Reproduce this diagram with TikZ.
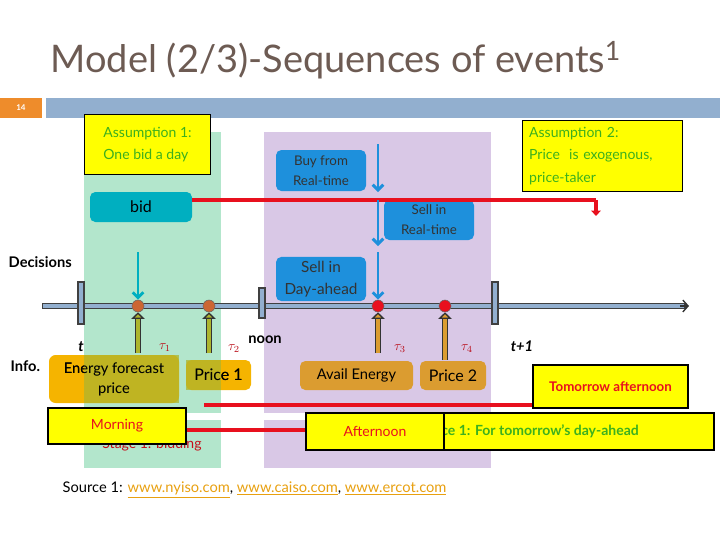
\documentclass[tikz,border=0pt]{standalone}
\usepackage{fontspec}
\setmainfont{Lato}
\usetikzlibrary{arrows.meta}
\definecolor{ttl}{HTML}{6D5B53}
\definecolor{grn}{HTML}{B3E6CC}
\definecolor{pur}{HTML}{D9C8E6}
\definecolor{yel}{HTML}{FFFF00}
\definecolor{tgreen}{HTML}{3CB01E}
\definecolor{teal}{HTML}{00AFC0}
\definecolor{bbl}{HTML}{1E90DC}
\definecolor{orng}{HTML}{F5B400}
\definecolor{dorng}{HTML}{DB9C30}
\definecolor{olv}{HTML}{ADB52E}
\definecolor{rd}{HTML}{E8101E}
\definecolor{barb}{HTML}{92AFCF}
\definecolor{lnk}{HTML}{E8A010}
\tikzset{
  ybox/.style={draw=black, line width=0.8pt, fill=yel, align=left, font=\fontsize{10.5}{17}\selectfont, inner sep=4pt},
  bbox/.style={fill=bbl, rounded corners=4pt, align=center, font=\fontsize{10}{15}\selectfont, text=black!80},
  obox/.style={fill=dorng, rounded corners=4pt, align=center, font=\fontsize{11}{15}\selectfont},
  darr/.style={bbl, line width=2.2pt, -{Straight Barb[length=4pt,width=8pt]}},
  tick/.style={draw=black!75, fill=barb, line width=0.8pt},
  lbl/.style={font=\bfseries\fontsize{11}{13}\selectfont},
  tau/.style={text=rd!80!black, font=\fontsize{10}{12}\selectfont},
  rline/.style={rd, line width=3.5pt}
}
\begin{document}
\begin{tikzpicture}[x=0.75pt,y=-0.75pt]
\useasboundingbox (0,0) rectangle (720,540);
% title
\node[text=ttl, font=\fontsize{28.5}{32}\selectfont, anchor=west] (title) at (46,60) {Model (2/3)-Sequences of events$^{\mathrm{1}}$};
\fill[orange!70!brown!90] (0,98) rectangle (42,118);
\node[text=white, font=\bfseries\fontsize{6}{7}\selectfont] (num) at (21,108) {14};
\fill[barb] (46,98) rectangle (720,118);
% backgrounds
\fill[grn] (84,132) rectangle (221,413);
\fill[grn] (84,420) rectangle (221,468);
\fill[pur] (264,132) rectangle (491,413);
\fill[pur] (264,420) rectangle (491,468);
% timeline
\draw[black!75, line width=5pt] (42,306) -- (686,306);
\draw[barb, line width=3.2pt] (43,306) -- (684,306);
\draw[black!80, line width=1pt, -{Straight Barb[length=4pt,width=9pt]}] (680,306) -- (689,306);
\draw[tick] (78,282) rectangle (84,324);
\draw[tick] (259,288) rectangle (265,318);
\draw[tick] (492,282) rectangle (498,324);
% decision boxes
\node[fill=teal, rounded corners=4pt, minimum width=76.5pt, minimum height=22.5pt, font=\fontsize{12}{14}\selectfont] (bid) at (141,207) {bid};
\node[bbox, minimum width=67.5pt, minimum height=30.75pt] (buy) at (321,170.5) {Buy from\\Real-time};
\node[bbox, minimum width=67.5pt, minimum height=30pt] (srt) at (429,220) {Sell in\\Real-time};
\node[bbox, minimum width=67.5pt, minimum height=31.5pt, font=\fontsize{11.5}{16}\selectfont] (sda) at (321,279) {Sell in\\Day-ahead};
% red bid line
\coordinate (rend) at (596,200);
\coordinate (rtip) at (596,216);
\draw[rline] (bid.east |- 0,200) -- (rend);
\draw[rd, line width=3pt, -{Triangle[length=4pt,width=7pt]}] (rend) -- (rtip);
% dots
\node[circle, fill=brown!80!red, draw=black!60, inner sep=0, minimum size=9pt] (d1) at (138,306) {};
\node[circle, fill=brown!80!red, draw=black!60, inner sep=0, minimum size=9pt] (d2) at (209,306) {};
\node[circle, fill=rd, draw=black!60, inner sep=0, minimum size=9pt] (d3) at (378,306) {};
\node[circle, fill=rd, draw=black!60, inner sep=0, minimum size=9pt] (d4) at (445,306) {};
% down arrows
\coordinate (a1) at (378,144); \coordinate (a2) at (378,192);
\coordinate (a3) at (378,200); \coordinate (a4) at (378,246);
\coordinate (a5) at (378,252);
\coordinate (t1) at (138,252);
\draw[darr] (a1) -- (a2);
\draw[darr] (a3) -- (a4);
\draw[darr] (a5) -- (d3.north);
\draw[darr, teal] (t1) -- (d1.north);
% up arrows
\foreach \n/\c/\y in {d1/olv/353, d2/olv/353, d3/dorng/353, d4/dorng/360}{
  \draw[black!80, line width=5pt] (\n.south |- 0,\y) -- ([yshift=-5pt]\n.south);
  \draw[\c, line width=3pt] (\n.south |- 0,\y) -- ([yshift=-5pt]\n.south);
  \draw[black!80, line width=1pt, -{Triangle[open,length=5pt,width=10pt,fill=\c]}] ([yshift=-4pt]\n.south) -- (\n.south);
}
% labels
\node[lbl, anchor=west] (dec) at (4,262) {Decisions};
\node[lbl, anchor=west] (info) at (6,366) {Info.};
\node[font=\bfseries\itshape\fontsize{11}{13}\selectfont] (tt) at (81,347) {t};
\node[font=\bfseries\itshape\fontsize{11}{13}\selectfont] (tt1) at (522,346) {t+1};
\node[lbl] (noon) at (265,340) {noon};
\node[tau] (tau1) at (165,348) {$\tau_1$};
\node[tau] (tau2) at (234,349) {$\tau_2$};
\node[tau] (tau3) at (400,349) {$\tau_3$};
\node[tau] (tau4) at (467,349) {$\tau_4$};
% info boxes
\node[fill=orng, rounded corners=5pt, minimum width=97.5pt, minimum height=36pt, align=center, font=\fontsize{11}{15}\selectfont] (ef) at (114,379) {Energy forecast\\price};
\node[fill=orng, rounded corners=4pt, minimum width=48.75pt, minimum height=22.5pt, font=\fontsize{12}{14}\selectfont] (p1) at (218.5,375) {Price 1};
\fill[olv, fill opacity=0.75] (84,355) rectangle (179,403);
\fill[olv, fill opacity=0.75] (186,360) rectangle (221,390);
\node[font=\fontsize{11}{15}\selectfont, align=center] at (ef.center) {Energy forecast\\price};
\node[font=\fontsize{12}{14}\selectfont] at (p1.center) {Price 1};
\node[obox, minimum width=84.75pt, minimum height=21.75pt] (ae) at (356.5,375.5) {Avail Energy};
\node[obox, minimum width=49.5pt, minimum height=21.75pt, font=\fontsize{12}{14}\selectfont] (p2) at (453,375.5) {Price 2};
% stage texts
\node[text=rd!85!black, font=\fontsize{10.5}{12}\selectfont] (st1) at (152,445) {Stage 1: bidding};
\node[text=rd!85!black, font=\fontsize{10.5}{12}\selectfont, anchor=west] (st2) at (300,445) {Stage 2};
% yellow boxes
\node[ybox, text=tgreen, minimum width=94.5pt, minimum height=45pt, anchor=north west] (as1) at (84,114) {Assumption 1:\\One bid a day};
\node[ybox, text=tgreen, minimum width=120pt, minimum height=53.25pt, anchor=north west, text width=110pt] (as2) at (522,120) {Assumption 2:\\Price\ \ is exogenous,\\price-taker};
\node[ybox, text=rd, font=\bfseries\fontsize{10}{12}\selectfont, minimum width=116.25pt, minimum height=32.25pt, align=center] (ta) at (610.5,386.5) {Tomorrow afternoon};
\draw[rline] (204,405) -- (ta.west |- 0,405);
\node[ybox, minimum width=243pt, minimum height=27.75pt] (src) at (552,431.5) {};
\node[text=tgreen, font=\bfseries\fontsize{10.5}{12}\selectfont, anchor=west] (srct) at (408,431.5) {Source 1: For tomorrow’s day-ahead};
\node[ybox, text=rd, minimum width=103.5pt, minimum height=27.75pt, align=center] (aft) at (375,431.5) {Afternoon};
\node[ybox, text=rd, minimum width=103.5pt, minimum height=27pt, align=center] (mor) at (117,426) {Morning};
\draw[rline] (mor.east |- 0,430) -- (aft.west |- 0,430);
% source line
\node[anchor=west, font=\fontsize{11}{13}\selectfont] (srcl) at (58,490) {Source 1: \textcolor{lnk}{\underline{www.nyiso.com}}, \textcolor{lnk}{\underline{www.caiso.com}}, \textcolor{lnk}{\underline{www.ercot.com}}};
\end{tikzpicture}
\end{document}
